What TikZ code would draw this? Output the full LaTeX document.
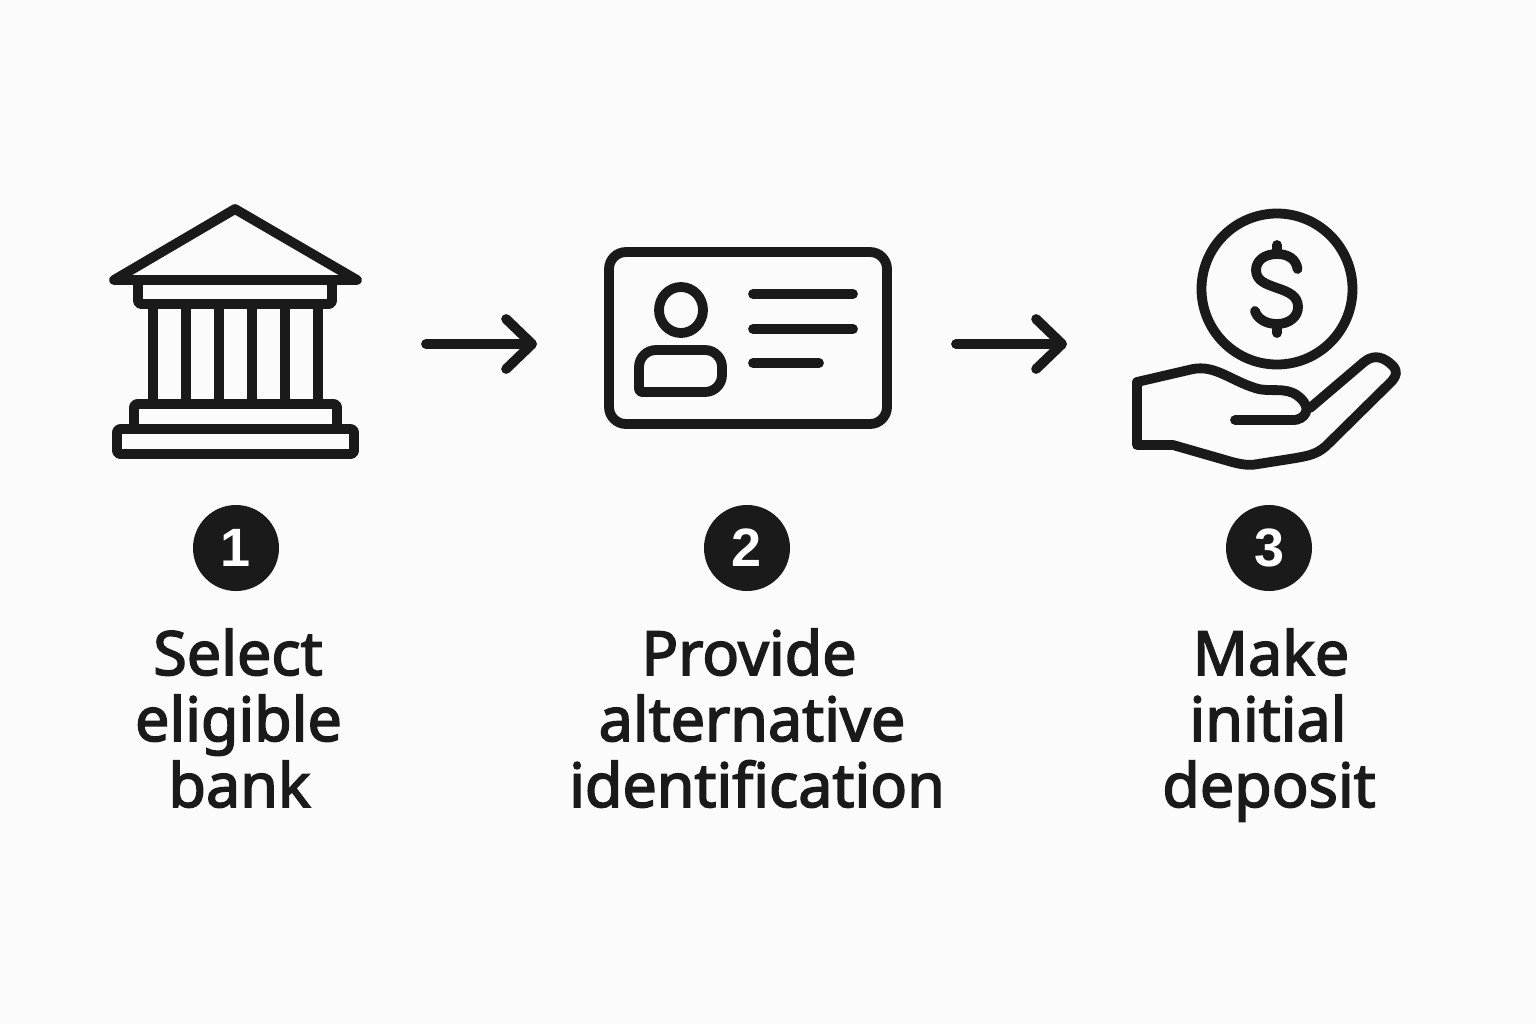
\documentclass[tikz,border=0pt]{standalone}
\usepackage{fontspec}
\setmainfont{Noto Sans}
\newfontfamily\lblfont[FakeBold=2.6]{Noto Sans}
\newfontfamily\numfont{Liberation Sans}
\usetikzlibrary{arrows.meta,shapes.geometric}
\definecolor{ink}{HTML}{1A1A1A}
\definecolor{paper}{HTML}{FBFBFB}
\tikzset{
  icon/.style={draw=ink,line width=4.9pt,line join=round,line cap=round},
  boxy/.style={icon,rounded corners=1.5pt},
  flow/.style={icon,-{Straight Barb[length=13pt,width=25pt,round]}},
  badge/.style={circle,fill=ink,text=white,minimum size=43pt,inner sep=0pt,font=\fontsize{27}{27}\numfont\bfseries},
  lbl/.style={anchor=base,text=ink,inner sep=0pt,font=\fontsize{30.5}{33}\lblfont},
}
\begin{document}
\begin{tikzpicture}[x=0.5pt,y=-0.5pt]
\useasboundingbox[fill=paper] (0,0) rectangle (1536,1024);
% bank
\draw[icon] (235,209) -- (114,280) -- (357,280) -- cycle;
\draw[boxy] (138,280) rectangle (332,304);
\foreach \cx in {153,186,219,252,285,318} \draw[icon,line cap=butt] (\cx,304) -- (\cx,404);
\draw[boxy] (134,404) rectangle (337,429);
\draw[boxy] (117,429) rectangle (354,454);
\coordinate (bank) at (426,344);
\coordinate (cardin) at (537,344);
% card
\draw[icon,rounded corners=8.5pt] (609,252) rectangle (887,424);
\node[draw=ink,line width=4.9pt,ellipse,minimum width=22pt,minimum height=23pt,inner sep=0pt] (head) at (681,310) {};
\draw[icon,rounded corners=8.5pt] (639,392) -- (639,350) -- (722,350) -- (722,392) [rounded corners=1.5pt] -- cycle;
\draw[icon] (753,294) -- (853,294);
\draw[icon] (753,329) -- (853,329);
\draw[icon] (753,363) -- (819,363);
\coordinate (cardout) at (956,344);
\coordinate (handin) at (1067,344);
% coin
\draw[icon] (1277,289) circle [x radius=75.5,y radius=75.5];
\draw[icon] (1297.5,269) .. controls (1296,259) and (1288,254) .. (1277,254)
  .. controls (1264,254) and (1256,261) .. (1256,270)
  .. controls (1256,281) and (1266,284) .. (1277,288)
  .. controls (1289,292) and (1298,296) .. (1298,307)
  .. controls (1298,317) and (1289,324) .. (1277,324)
  .. controls (1265,324) and (1257,318) .. (1255,311);
\draw[icon] (1277,245) -- (1277,254);
\draw[icon] (1277,324) -- (1277,333);
% hand
\draw[icon] (1137,382) -- (1193,369)
  .. controls (1215,365) and (1230,380) .. (1255,388)
  .. controls (1270,393) and (1285,386) .. (1298,396)
  .. controls (1307,403) and (1310,412) .. (1301,418)
  .. controls (1298,420) and (1296,420) .. (1290,420) -- (1235,420);
\draw[icon] (1310,408) -- (1364,362)
  .. controls (1375,353) and (1385,358) .. (1393,366)
  .. controls (1398,372) and (1396,376) .. (1392,381)
  -- (1326,446)
  .. controls (1316,455) and (1306,456) .. (1296,458)
  -- (1258,464)
  .. controls (1248,466) and (1240,464) .. (1232,462)
  -- (1173,445) -- (1137,445) -- (1137,382);
% arrows
\draw[flow] (bank) -- (cardin);
\draw[flow] (cardout) -- (handin);
% badges
\node[badge] (b1) at (236,548) {1};
\node[badge] (b2) at (747,548) {2};
\node[badge] (b3) at (1269,548) {3};
% labels
\node[lbl] (t11) at (238,675) {Select};
\node[lbl] (t12) at (238.5,741) {eligible};
\node[lbl] (t13) at (239.5,807) {bank};
\node[lbl] (t21) at (749,675) {Provide};
\node[lbl] (t22) at (752,741) {alternative};
\node[lbl] (t23) at (757,807) {identification};
\node[lbl] (t31) at (1271,675) {Make};
\node[lbl] (t32) at (1268,741) {initial};
\node[lbl] (t33) at (1269,807) {deposit};
\end{tikzpicture}
\end{document}
